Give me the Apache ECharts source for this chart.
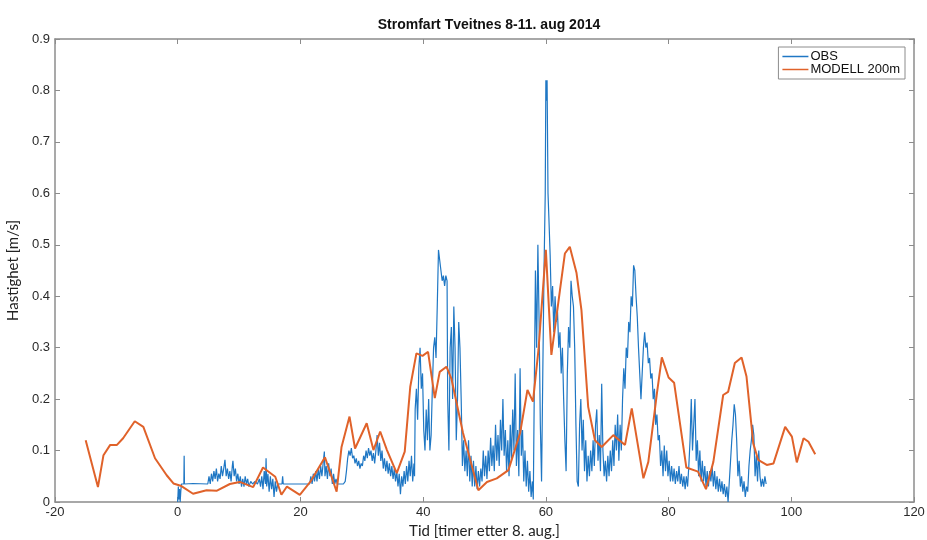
<!DOCTYPE html>
<html>
<head>
<meta charset="utf-8">
<title>Stromfart Tveitnes</title>
<script src="https://cdn.jsdelivr.net/npm/echarts@6/dist/echarts.min.js"></script>
<style>
html, body { margin: 0; padding: 0; background: #fff; }
#chart { width: 927px; height: 540px; }
</style>
</head>
<body>
<div id="chart"></div>
<script>
// time [hours after 8. aug], speed [m/s]
var obsData = [
	[0.0,0.0],[0.1,0.03],[0.2,0.005],[0.3,0.025],[0.4,0.0],[0.5,0.02],[0.6,0.035],[1.0,0.035],[1.05,0.09],[1.1,0.035],
	[2.5,0.036],[4.9,0.035],
	[5.1,0.05],[5.3,0.035],[5.5,0.055],[5.7,0.04],[5.9,0.06],[6.1,0.045],[6.3,0.065],[6.5,0.04],[6.7,0.055],[6.9,0.045],
	[7.1,0.07],[7.3,0.05],[7.5,0.065],[7.7,0.082],[7.9,0.05],[8.1,0.065],[8.3,0.045],[8.5,0.06],[8.7,0.04],[8.9,0.07],
	[9.0,0.08],[9.2,0.05],[9.4,0.065],[9.6,0.04],[9.8,0.055],[10.0,0.035],[10.2,0.05],[10.4,0.03],[10.6,0.045],[10.8,0.03],
	[11.0,0.05],[11.2,0.035],[11.4,0.045],[11.6,0.03],[11.9,0.04],[12.2,0.035],[12.6,0.04],[13.0,0.035],[13.3,0.045],
	[13.5,0.03],[13.7,0.05],[13.9,0.025],[14.1,0.06],[14.3,0.035],[14.4,0.085],[14.5,0.03],[14.7,0.055],[14.9,0.02],
	[15.1,0.05],[15.3,0.025],[15.5,0.045],[15.7,0.01],[15.9,0.04],[16.1,0.02],[16.3,0.035],
	[17.0,0.035],[17.1,0.05],[17.2,0.035],[19.0,0.035],[21.5,0.035],
	[21.7,0.05],[21.9,0.035],[22.1,0.055],[22.3,0.04],[22.5,0.06],[22.7,0.04],[22.9,0.065],[23.1,0.045],[23.3,0.07],
	[23.5,0.05],[23.7,0.075],[23.9,0.098],[24.0,0.05],[24.2,0.07],[24.4,0.045],[24.6,0.075],[24.8,0.05],[25.0,0.065],
	[25.2,0.035],[25.4,0.055],[25.6,0.035],[25.8,0.045],[26.0,0.035],[27.0,0.035],[27.3,0.04],
	[27.5,0.06],[27.7,0.085],[27.9,0.1],[28.1,0.09],[28.3,0.105],[28.5,0.085],[28.7,0.09],[28.9,0.075],[29.1,0.085],
	[29.3,0.07],[29.5,0.08],[29.7,0.065],[29.9,0.075],[30.1,0.07],[30.3,0.09],[30.5,0.08],[30.7,0.1],[30.9,0.085],
	[31.1,0.105],[31.3,0.09],[31.5,0.1],[31.7,0.08],[31.9,0.095],[32.1,0.075],[32.3,0.1],[32.5,0.13],[32.7,0.09],
	[32.9,0.115],[33.1,0.08],[33.3,0.1],[33.5,0.065],[33.7,0.085],[33.9,0.06],[34.1,0.08],[34.3,0.055],[34.5,0.075],
	[34.7,0.05],[34.9,0.07],[35.1,0.045],[35.3,0.065],[35.5,0.04],[35.7,0.06],[35.9,0.03],[36.1,0.055],[36.3,0.015],
	[36.5,0.05],[36.7,0.03],[36.9,0.06],[37.1,0.035],[37.3,0.07],[37.5,0.04],[37.7,0.08],[37.9,0.05],[38.1,0.09],
	[38.3,0.04],[38.5,0.075],[38.6,0.05],
	[38.7,0.18],[38.9,0.22],[39.1,0.16],[39.3,0.26],[39.5,0.3],[39.7,0.22],[39.9,0.25],[40.1,0.14],[40.3,0.1],
	[40.5,0.18],[40.7,0.12],[40.9,0.2],[41.1,0.1],[41.3,0.13],[41.5,0.22],[41.7,0.3],[41.9,0.32],[42.1,0.28],
	[42.3,0.38],[42.5,0.49],[42.7,0.47],[42.9,0.45],[43.1,0.43],[43.3,0.44],[43.5,0.42],[43.7,0.44],[43.9,0.43],
	[44.0,0.2],[44.2,0.1],[44.4,0.3],[44.6,0.34],[44.8,0.2],[45.0,0.38],[45.2,0.3],[45.4,0.12],[45.6,0.2],
	[45.8,0.35],[46.0,0.3],[46.2,0.2],[46.4,0.07],[46.6,0.12],[46.8,0.06],[47.0,0.1],[47.2,0.05],[47.4,0.12],
	[47.6,0.04],[47.8,0.09],[48.0,0.03],[48.2,0.08],[48.4,0.03],[48.6,0.07],[48.8,0.025],[49.0,0.06],[49.2,0.03],
	[49.4,0.065],[49.6,0.04],[49.8,0.1],[50.0,0.05],[50.2,0.09],[50.4,0.045],[50.6,0.1],[50.8,0.06],[51.0,0.125],
	[51.2,0.07],[51.4,0.11],[51.6,0.06],[51.8,0.15],[52.0,0.08],[52.2,0.13],[52.4,0.07],[52.6,0.16],[52.8,0.1],
	[53.0,0.2],[53.2,0.09],[53.4,0.14],[53.6,0.06],[53.8,0.12],[54.0,0.05],[54.2,0.15],[54.4,0.08],[54.6,0.18],
	[54.8,0.1],[55.0,0.25],[55.2,0.07],[55.4,0.14],[55.6,0.05],[55.8,0.26],[56.0,0.09],[56.2,0.14],[56.4,0.04],
	[56.6,0.1],[56.8,0.03],[57.0,0.08],[57.2,0.02],[57.4,0.06],[57.6,0.01],[57.8,0.04],[57.95,0.005],
	[58.1,0.2],[58.3,0.45],[58.5,0.3],[58.7,0.5],[58.9,0.35],[59.1,0.15],[59.3,0.04],[59.5,0.25],[59.7,0.45],
	[59.9,0.6],[60.0,0.82],[60.1,0.78],[60.2,0.82],[60.35,0.6],[60.5,0.55],[60.7,0.48],[60.9,0.38],[61.1,0.42],
	[61.3,0.33],[61.5,0.4],[61.7,0.35],[61.9,0.37],[62.1,0.3],[62.3,0.33],[62.5,0.25],[62.7,0.3],[62.9,0.2],
	[63.1,0.12],[63.3,0.06],[63.5,0.25],[63.7,0.34],[63.9,0.3],[64.1,0.43],[64.3,0.4],[64.5,0.38],[64.7,0.3],
	[64.9,0.15],[65.1,0.04],[65.3,0.03],[65.5,0.15],[65.7,0.2],[65.9,0.1],[66.1,0.16],[66.3,0.06],[66.5,0.12],
	[66.7,0.04],[66.9,0.09],[67.1,0.05],[67.3,0.1],[67.5,0.06],[67.7,0.12],[67.9,0.07],[68.1,0.15],[68.3,0.18],
	[68.5,0.08],[68.7,0.13],[68.9,0.06],[69.1,0.23],[69.3,0.1],[69.5,0.05],[69.7,0.08],[69.9,0.04],[70.1,0.09],
	[70.3,0.05],[70.5,0.1],[70.7,0.06],[70.9,0.12],[71.1,0.07],[71.3,0.15],[71.5,0.1],[71.7,0.17],[71.9,0.08],
	[72.1,0.15],[72.3,0.1],[72.5,0.2],[72.7,0.26],[72.9,0.22],[73.1,0.3],[73.3,0.28],[73.5,0.35],[73.7,0.33],
	[73.9,0.4],[74.1,0.38],[74.3,0.46],[74.5,0.45],[74.7,0.4],[74.9,0.36],[75.1,0.3],[75.3,0.25],[75.5,0.2],
	[75.7,0.25],[75.9,0.3],[76.1,0.33],[76.3,0.3],[76.5,0.31],[76.7,0.27],[76.9,0.28],[77.1,0.24],[77.3,0.25],
	[77.5,0.2],[77.7,0.22],[77.9,0.15],[78.1,0.17],[78.3,0.12],[78.5,0.13],[78.7,0.07],[78.9,0.1],[79.1,0.05],
	[79.3,0.11],[79.5,0.06],[79.7,0.1],[79.9,0.05],[80.1,0.08],[80.3,0.04],[80.5,0.07],[80.7,0.04],[80.9,0.065],
	[81.1,0.035],[81.3,0.06],[81.5,0.04],[81.7,0.07],[81.9,0.035],[82.1,0.055],[82.3,0.03],[82.5,0.05],[82.7,0.025],
	[82.9,0.05],[83.1,0.03],[83.3,0.07],[83.5,0.12],[83.7,0.2],[83.9,0.1],[84.1,0.15],[84.3,0.2],[84.5,0.08],
	[84.7,0.12],[84.9,0.05],[85.1,0.1],[85.3,0.04],[85.5,0.08],[85.7,0.04],[85.9,0.07],[86.1,0.03],[86.3,0.06],
	[86.5,0.03],[86.7,0.06],[86.9,0.04],[87.1,0.07],[87.3,0.03],[87.5,0.06],[87.7,0.025],[87.9,0.05],[88.1,0.02],
	[88.3,0.045],[88.5,0.02],[88.7,0.04],[88.9,0.015],[89.1,0.035],[89.3,0.01],[89.5,0.03],[89.7,0.0],[89.9,0.04],
	[90.1,0.08],[90.3,0.12],[90.5,0.15],[90.7,0.19],[90.9,0.17],[91.1,0.12],[91.3,0.05],[91.5,0.08],[91.7,0.03],
	[91.9,0.05],[92.1,0.02],[92.3,0.04],[92.5,0.01],[92.7,0.03],[92.9,0.02],[93.1,0.07],[93.3,0.1],[93.5,0.12],
	[93.7,0.15],[93.9,0.13],[94.1,0.05],[94.3,0.09],[94.5,0.04],[94.7,0.1],[94.9,0.05],[95.1,0.03],[95.3,0.045],
	[95.5,0.03],[95.7,0.05],[95.9,0.035]
];

var modelHours = [-15.0,-13.0,-12.1,-11.0,-9.9,-8.9,-7.0,-5.6,-3.7,-1.8,-0.7,0.6,2.5,4.7,6.4,8.5,10.1,12.3,13.9,15.9,
	16.9,17.8,19.9,21.6,24.0,25.9,26.7,28.0,28.9,30.8,31.9,33.0,34.1,35.7,37.0,37.9,38.9,39.9,40.8,41.9,42.7,43.8,
	44.6,46.5,49.0,50.4,52.0,53.9,55.8,57.0,57.9,58.8,60.0,60.9,62.3,63.1,63.9,65.0,65.8,66.9,68.0,69.1,71.0,72.9,
	74.0,75.9,76.7,78.1,78.9,80.0,80.9,82.9,84.8,86.1,87.3,88.9,89.7,90.8,91.9,92.7,93.8,94.6,96.0,97.1,99.0,100.1,
	100.9,102.0,102.8,103.9];
var modelSpeed = [0.12,0.029,0.091,0.111,0.111,0.124,0.157,0.146,0.085,0.052,0.036,0.031,0.016,0.023,0.022,0.035,
	0.039,0.029,0.067,0.049,0.014,0.03,0.014,0.039,0.087,0.02,0.107,0.166,0.104,0.153,0.101,0.137,0.101,0.056,0.098,
	0.224,0.289,0.284,0.292,0.202,0.253,0.263,0.24,0.134,0.023,0.039,0.046,0.062,0.134,0.218,0.195,0.296,0.49,0.286,
	0.412,0.483,0.496,0.445,0.373,0.185,0.12,0.107,0.13,0.111,0.182,0.046,0.078,0.211,0.281,0.242,0.232,0.067,0.059,
	0.025,0.078,0.208,0.214,0.27,0.281,0.244,0.114,0.082,0.072,0.075,0.146,0.127,0.077,0.124,0.117,0.093];

var xTicks = [-20, 120, 20];
var yTicks = [0, 0.9, 0.1];

var modelData = modelHours.map(function(t, i){
	return [t, modelSpeed[i]];
});

var frameColor = '#8c8c8c';
var labelFont = 'Liberation Sans';

var chart = echarts.init(document.getElementById('chart'));

var option = {
	backgroundColor: '#ffffff',
	animation: false,
	title: {
		text: 'Stromfart Tveitnes 8-11. aug 2014',
		left: 484,
		textAlign: 'center',
		top: 13,
		textStyle: {
			fontFamily: labelFont,
			fontWeight: 'bold',
			fontSize: 14,
			color: '#111'
		}
	},
	legend: {
		orient: 'vertical',
		right: 22,
		top: 47,
		padding: [3, 5, 3, 4],
		itemGap: 0,
		itemWidth: 26,
		itemHeight: 1.5,
		icon: 'rect',
		backgroundColor: '#fff',
		borderColor: '#8c8c8c',
		borderWidth: 1,
		textStyle: {
			fontFamily: labelFont,
			fontSize: 13,
			lineHeight: 13,
			color: '#111',
			padding: [0, 0, 0, -3]
		},
		data: ['OBS', 'MODELL 200m']
	},
	grid: {
		left: 55,
		right: 13,
		top: 39,
		bottom: 38,
		outerBoundsMode: 'none'
	},
	xAxis: [{
		type: 'value',
		min: xTicks[0],
		max: xTicks[1],
		interval: xTicks[2],
		name: 'Tid [timer etter 8. aug.]',
		nameLocation: 'middle',
		nameGap: 22,
		nameTextStyle: {
			fontFamily: 'Lato',
			fontSize: 15,
			color: '#222'
		},
		axisLine: { onZero: false, lineStyle: { color: frameColor, width: 1.5 } },
		axisTick: { inside: true, length: 5, lineStyle: { color: frameColor } },
		axisLabel: { fontFamily: labelFont, fontSize: 13, color: '#2a2a2a', margin: 4 },
		splitLine: { show: false }
	}, {
		type: 'value',
		position: 'top',
		min: xTicks[0],
		max: xTicks[1],
		interval: xTicks[2],
		axisLine: { onZero: false, lineStyle: { color: frameColor, width: 1.5 } },
		axisTick: { inside: true, length: 5, lineStyle: { color: frameColor } },
		axisLabel: { show: false },
		splitLine: { show: false }
	}],
	yAxis: [{
		type: 'value',
		min: yTicks[0],
		max: yTicks[1],
		interval: yTicks[2],
		name: 'Hastighet [m/s]',
		nameLocation: 'middle',
		nameGap: 27,
		nameTextStyle: {
			fontFamily: 'Lato',
			fontSize: 15,
			color: '#222'
		},
		axisLine: { show: true, onZero: false, lineStyle: { color: frameColor, width: 1.5 } },
		axisTick: { show: true, inside: true, length: 5, lineStyle: { color: frameColor } },
		axisLabel: {
			fontFamily: labelFont,
			fontSize: 13,
			color: '#2a2a2a',
			margin: 5,
			formatter: function(v){
				return v === 0 ? '0' : v.toFixed(1);
			}
		},
		splitLine: { show: false }
	}, {
		type: 'value',
		position: 'right',
		min: yTicks[0],
		max: yTicks[1],
		interval: yTicks[2],
		axisLine: { show: true, onZero: false, lineStyle: { color: frameColor, width: 1.5 } },
		axisTick: { show: true, inside: true, length: 5, lineStyle: { color: frameColor } },
		axisLabel: { show: false },
		splitLine: { show: false }
	}],
	series: [{
		name: 'OBS',
		type: 'line',
		xAxisIndex: 0,
		yAxisIndex: 0,
		data: obsData,
		symbol: 'none',
		color: '#1f77c4',
		lineStyle: { width: 1.2, color: '#1f77c4' }
	}, {
		name: 'MODELL 200m',
		type: 'line',
		xAxisIndex: 0,
		yAxisIndex: 0,
		data: modelData,
		symbol: 'none',
		color: '#e0622a',
		lineStyle: { width: 2, color: '#e0622a' }
	}]
};

chart.setOption(option);

window.onresize = function(){
	chart.resize();
}
</script>
</body>
</html>
